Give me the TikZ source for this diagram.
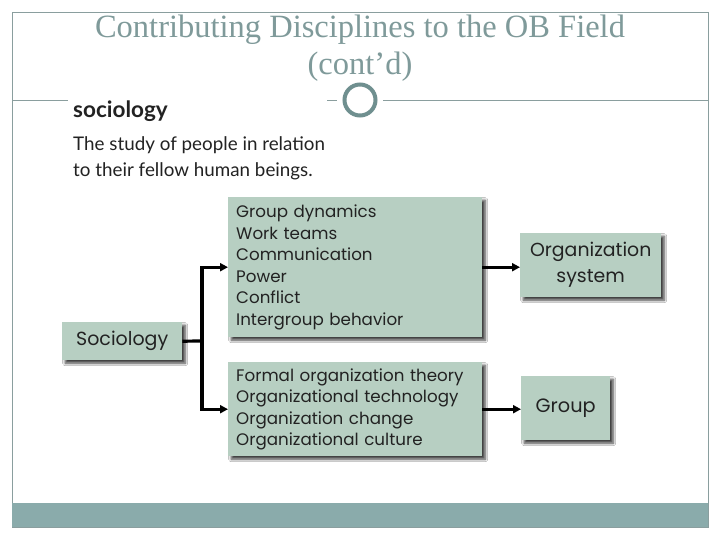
\documentclass[tikz,border=0pt]{standalone}
\usepackage{fontspec}
\setmainfont{Liberation Serif}
\newfontfamily\boxfont{Poppins}
\newfontfamily\defnfont{Lato}
\usetikzlibrary{arrows.meta,shadows.blur}
\definecolor{titlecol}{HTML}{7F9A9A}
\definecolor{framecol}{HTML}{8A9E9E}
\definecolor{ringcol}{HTML}{6F8F8F}
\definecolor{barcol}{HTML}{8AABAB}
\definecolor{boxfill}{HTML}{B7CFC2}
\definecolor{boxtext}{HTML}{222222}
\tikzset{
  dbox/.style={fill=boxfill, text=boxtext, inner sep=0pt, anchor=north west,
    blur shadow={shadow xshift=3pt, shadow yshift=-3pt, shadow blur radius=2.5pt,
      shadow blur steps=6, shadow opacity=75}},
  listfont/.style={font=\boxfont\fontsize{16.7}{21.5}\selectfont},
  conn/.style={line width=3.2pt, black},
  arr/.style={conn, -{Triangle[length=8pt,width=8pt]}},
}
\begin{document}
\begin{tikzpicture}[x=1pt,y=-1pt]
\useasboundingbox (0,0) rectangle (720,540);
\fill[white] (0,0) rectangle (720,540);
% frame and bar
\draw[framecol, line width=0.8pt] (12,12) rectangle (708,527);
\fill[barcol] (12,503) rectangle (708,527);
\draw[framecol, line width=0.8pt] (12,100) -- (68,100);
\draw[framecol, line width=0.8pt] (327,100) -- (337,100);
\draw[framecol, line width=0.8pt] (383,100) -- (708,100);
\draw[ringcol, line width=4pt, fill=white] (360,100) circle (15.5);
% title
\node[titlecol, font=\fontsize{32.5}{37}\selectfont, align=center] (title) at (360,48)
  {Contributing Disciplines to the OB Field\\(cont’d)};
% definition
\node[anchor=base west, inner sep=0pt, font=\defnfont\bfseries\fontsize{22.5}{26}\selectfont, text=boxtext] (dhead) at (73,118) {sociology};
\node[anchor=north west, inner sep=0pt, align=left, font=\defnfont\fontsize{18.8}{26}\selectfont, text=boxtext] (dtext) at (73,136)
  {The study of people in relation\\to their fellow human beings.};
% boxes
\node[dbox, minimum width=120pt, minimum height=38pt, font=\boxfont\fontsize{19}{22}\selectfont] (soc) at (62,322) {Sociology};
\node[dbox, listfont, minimum width=254pt, minimum height=140pt, text width=238pt, inner xsep=8pt, align=left] (top) at (228,197)
  {Group dynamics\\Work teams\\Communication\\Power\\Conflict\\Intergroup behavior};
\node[dbox, listfont, minimum width=254pt, minimum height=94pt, text width=238pt, inner xsep=8pt, align=left] (bot) at (228,362)
  {Formal organization theory\\Organizational technology\\Organization change\\Organizational culture};
\node[dbox, font=\boxfont\fontsize{18.9}{26}\selectfont, align=center, minimum width=141pt, minimum height=64pt] (org) at (520,233)
  {Organization\\system};
\node[dbox, font=\boxfont\fontsize{19.3}{22}\selectfont, minimum width=89pt, minimum height=64pt] (grp) at (521,376) {Group};
% connectors
\coordinate (j) at (202,341);
\draw[conn] (soc.east) -- (j);
\draw[arr] (j) |- (top.west);
\draw[arr] (j) |- (bot.west);
\draw[arr] (top.east) -- (top.east -| org.west);
\draw[arr] (bot.east) -- (bot.east -| grp.west);
\end{tikzpicture}
\end{document}
